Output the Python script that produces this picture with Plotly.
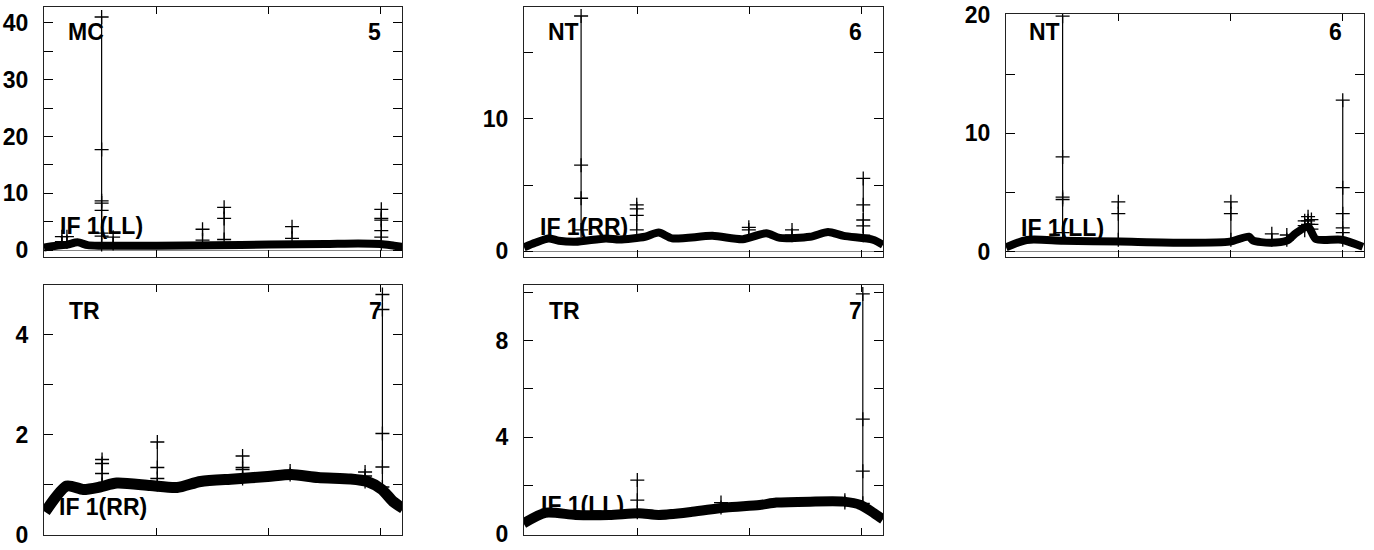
import plotly.graph_objects as go

# ---------------- data ----------------
X_TICKS = [100, 200, 300]
X_RANGE = [-1, 319]

# Panel 1: MC, antenna 5, IF 1(LL)
p1_base_x = [-1, 10, 20, 29, 38, 50, 100, 150, 200, 250, 280, 300, 312, 320]
p1_base_y = [0.5, 0.8, 1.0, 1.4, 0.9, 0.8, 0.8, 0.9, 1.0, 1.1, 1.2, 1.1, 0.8, 0.6]
p1_spike_x = [15, 19.5, 50.5, 60.8, 140.7, 160, 220.7, 300.5]
p1_spike_y = [[2.4, 1.5], [2.4, 1.5], [41.0, 17.7, 8.7, 8.3, 7.0, 3.0, 2.5, 1.0],
              [2.3, 1.2], [3.7, 1.8], [7.55, 5.6, 1.9], [4.15, 2.1],
              [7.2, 5.6, 5.3, 3.45, 2.3, 1.2]]

# Panel 2: NT, antenna 6, IF 1(RR)
p2_base_x = [-1, 9, 21, 30, 45, 72, 84, 107, 119, 131, 167, 194, 215, 227, 254, 270, 284, 310, 319]
p2_base_y = [0.28, 0.63, 0.96, 0.78, 0.70, 0.96, 0.88, 1.08, 1.40, 0.96, 1.15, 0.90, 1.35, 1.0, 1.08, 1.45, 1.15, 0.86, 0.47]
p2_spike_x = [49.9, 99.5, 199.4, 237.9, 301.4]
p2_spike_y = [[17.8, 6.5, 4.0, 1.6], [3.5, 3.2, 2.7, 1.6], [1.8, 1.6], [1.6, 1.2],
              [5.5, 3.5, 2.35, 1.9, 1.2]]

# Panel 3: NT, antenna 6, IF 1(LL)
p3_base_x = [-1, 17.5, 50, 101, 160, 199, 216, 220, 235, 250, 258, 269, 276, 299, 318]
p3_base_y = [0.36, 0.98, 0.92, 0.84, 0.75, 0.84, 1.26, 0.92, 0.75, 0.92, 1.55, 2.1, 1.05, 1.0, 0.4]
p3_spike_x = [49.6, 99.4, 200, 236.6, 250, 266, 269, 272, 300]
p3_spike_y = [[19.9, 8.0, 4.6, 4.4, 1.6], [4.2, 3.2, 1.0], [4.2, 3.2, 1.0], [1.5, 1.0],
              [1.4, 1.0], [2.6, 2.2, 1.8], [2.95, 2.6, 2.3], [2.7, 2.3, 1.9],
              [12.8, 5.4, 3.2, 2.0, 1.6, 1.0]]

# Panel 4: TR, antenna 7, IF 1(RR)
p4_base_x = [0, 19.4, 34, 49, 64, 94, 118, 139, 169, 199, 220, 244, 273, 288, 301, 311, 320]
p4_base_y = [0.45, 0.97, 0.90, 0.95, 1.03, 0.98, 0.94, 1.06, 1.11, 1.16, 1.20, 1.14, 1.11, 1.06, 0.90, 0.66, 0.52]
p4_spike_x = [50.9, 100.3, 176.5, 219, 286, 301.5]
p4_spike_y = [[1.5, 1.42, 1.22, 1.0], [1.85, 1.34, 1.12, 1.0], [1.57, 1.34, 1.3, 1.12],
              [1.27, 1.2], [1.25, 1.17, 1.06], [4.8, 4.5, 2.02, 1.35, 0.95]]

# Panel 5: TR, antenna 7, IF 1(LL)
p5_base_x = [-1.4, 18, 45, 75, 101.5, 119, 149, 179, 209, 224, 254, 284, 299, 311, 319]
p5_base_y = [0.44, 0.88, 0.79, 0.79, 0.86, 0.79, 0.92, 1.10, 1.20, 1.30, 1.34, 1.34, 1.20, 0.86, 0.61]
p5_spike_x = [100, 174.6, 285, 301]
p5_spike_y = [[2.23, 1.4, 0.9], [1.3, 1.1], [1.4, 1.3], [9.93, 4.75, 2.6, 1.27]]

source_labels = ["MC", "NT", "NT", "TR", "TR"]
antenna_labels = ["5", "6", "6", "7", "7"]
if_labels = ["IF 1(LL)", "IF 1(RR)", "IF 1(LL)", "IF 1(RR)", "IF 1(LL)"]

y_ranges = [[-1.18, 42.76], [-0.45, 18.48], [-0.46, 20.08], [-0.01, 4.99], [-0.04, 10.30]]
y_major = [[0, 10, 20, 30, 40], [0, 10], [0, 10, 20], [0, 2, 4], [0, 4, 8]]
y_minor = [5, 5, 5, 1, 2]
band_widths = [8, 8, 8, 11, 10]

# ---------------- layout geometry ----------------
W, H = 1374, 550
px_x = [(44, 402), (524, 883), (1006, 1364), (44, 402), (524, 883)]
px_y = [(7, 257), (7, 257), (14, 257), (285, 535), (285, 535)]
text_px = [  # (label left, label center y, antenna center x, IF left, IF center y)
    (67, 32, 374, 59, 226),
    (547, 32, 855, 539, 227),
    (1028, 32, 1335, 1020, 228),
    (68, 311, 375, 58, 507),
    (548, 311, 855, 540, 505),
]

panels = [
    (p1_base_x, p1_base_y, p1_spike_x, p1_spike_y),
    (p2_base_x, p2_base_y, p2_spike_x, p2_spike_y),
    (p3_base_x, p3_base_y, p3_spike_x, p3_spike_y),
    (p4_base_x, p4_base_y, p4_spike_x, p4_spike_y),
    (p5_base_x, p5_base_y, p5_spike_x, p5_spike_y),
]

FONT = dict(family="Liberation Sans, Arial, sans-serif", size=23, color="black", weight="bold")

fig = go.Figure()
layout = dict(width=W, height=H, margin=dict(l=0, r=0, t=0, b=0, autoexpand=False),
              paper_bgcolor="white", plot_bgcolor="white", showlegend=False)
annotations = []

for i, (bx, by, sx, sy) in enumerate(panels):
    n = i + 1
    xa = "x" if n == 1 else f"x{n}"
    ya = "y" if n == 1 else f"y{n}"
    # band
    fig.add_trace(go.Scatter(x=bx, y=by, mode="lines", xaxis=xa, yaxis=ya,
                             line=dict(color="black", width=band_widths[i], shape="spline", smoothing=0.7),
                             hoverinfo="skip"))
    # spikes
    for xs, ys in zip(sx, sy):
        fig.add_trace(go.Scatter(x=[xs] * len(ys), y=ys, mode="lines+markers", xaxis=xa, yaxis=ya,
                                 line=dict(color="black", width=1.2),
                                 marker=dict(symbol="cross-thin", size=10, line=dict(color="black", width=1.3)),
                                 hoverinfo="skip"))
    x0, x1 = px_x[i]
    yt, yb = px_y[i]
    xdom = [x0 / W, x1 / W]
    ydom = [1 - yb / H, 1 - yt / H]
    xkey = "xaxis" if n == 1 else f"xaxis{n}"
    ykey = "yaxis" if n == 1 else f"yaxis{n}"
    layout[xkey] = dict(domain=xdom, anchor=ya, range=X_RANGE, tickmode="array", tickvals=X_TICKS,
                        showticklabels=False, ticks="inside", ticklen=7, tickwidth=1, tickcolor="black",
                        showline=True, linecolor="#222", linewidth=1, mirror="ticks",
                        showgrid=False, zeroline=False, automargin=False)
    layout[ykey] = dict(domain=ydom, anchor=xa, range=y_ranges[i], tickmode="array", tickvals=y_major[i],
                        ticks="inside", ticklen=9, tickwidth=1, tickcolor="black",
                        showline=True, linecolor="#222", linewidth=1, mirror="ticks",
                        showgrid=False, zeroline=True, zerolinecolor="#888", zerolinewidth=1,
                        tickfont=FONT, ticklabelstandoff=10, automargin=False,
                        minor=dict(dtick=y_minor[i], tick0=0, ticks="inside", ticklen=9, tickcolor="black",
                                   showgrid=False))
    lx, ly, ax, ifx, ify = text_px[i]
    dw = x1 - x0
    dh = yb - yt
    annotations.append(dict(text=source_labels[i], xref=f"{xa} domain", yref=f"{ya} domain",
                            x=(lx - x0) / dw, y=(yb - ly) / dh, xanchor="left", yanchor="middle",
                            showarrow=False, font=FONT, borderpad=0))
    annotations.append(dict(text=antenna_labels[i], xref=f"{xa} domain", yref=f"{ya} domain",
                            x=(ax - x0) / dw, y=(yb - ly) / dh, xanchor="center", yanchor="middle",
                            showarrow=False, font=FONT, borderpad=0))
    annotations.append(dict(text=if_labels[i], xref=f"{xa} domain", yref=f"{ya} domain",
                            x=(ifx - x0) / dw, y=(yb - ify) / dh, xanchor="left", yanchor="middle",
                            showarrow=False, font=FONT, borderpad=0))

layout["annotations"] = annotations
fig.update_layout(**layout)
fig.write_html("out.html", config={"displayModeBar": False},
               post_script="document.body.style.margin='0';document.body.style.overflow='hidden';")
